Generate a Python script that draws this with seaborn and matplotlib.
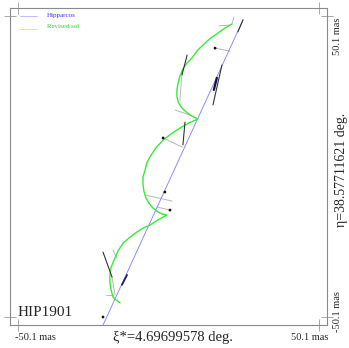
import matplotlib
matplotlib.use("Agg")
import matplotlib.pyplot as plt
import seaborn as sns
from matplotlib.lines import Line2D

sns.set_style("white")
plt.rcParams['font.family'] = ['Liberation Serif', 'DejaVu Serif']

# Dados (mas)
lim = 50.1
hip_x = [-21.8, 24.8]
hip_y = [-52.8, 48.8]

rev_x = [21.1, 18.8, 16.5, 14.1, 12.2, 9.8, 7.8, 6.2, 4.8, 3.8, 3.2, 2.8, 2.8, 3.2,
         4.2, 5.5, 7.2, 9.8,
         6.8, 3.8, 0.8, -1.8, -4.2, -6.2, -7.2, -7.8, -8.5, -8.5, -8.2, -7.5, -6.5,
         -5.2, -3.5, -2.2, -0.5,
         -3.5, -6.2, -8.5, -10.5, -12.8, -15.1, -16.8, -18.1, -19.1, -19.5, -19.5,
         -19.1, -18.5, -17.5, -16.1]
rev_y = [47.4, 46.1, 44.4, 42.8, 41.1, 38.8, 36.1, 34.5, 32.5, 30.1, 27.8, 25.5, 23.5, 21.5,
         19.8, 18.5, 17.1, 15.8,
         14.5, 12.8, 10.8, 8.8, 6.2, 3.2, 1.2, -1.2, -3.5, -5.8, -8.2, -10.5, -12.2,
         -13.8, -15.1, -15.8, -16.1,
         -17.8, -19.5, -20.5, -21.8, -23.5, -25.5, -28.1, -31.1, -33.5, -36.1, -38.8,
         -41.1, -43.4, -44.4, -45.4]

# segmentos de resíduo (cinza): x0, y0, x1, y1
res_x0 = [21.1, 16.8, 15.5, 4.5, 2.2, -1.8, -7.8, -3.8, -18.8, -20.8, -18.5]
res_y0 = [47.4, 46.8, 39.4, 31.1, 18.8, 9.5, -9.5, -13.5, -36.8, -42.8, -27.8]
res_x1 = [21.8, 20.5, 20.5, 3.8, 7.2, 4.5, 1.2, 0.5, -17.8, -18.5, -17.1]
res_y1 = [49.8, 47.1, 38.4, 22.1, 17.1, 6.5, -11.5, -14.5, -42.8, -42.8, -30.5]

# segmentos de erro (preto)
err_x0 = [24.8, 17.8, 6.2, 5.5, -21.8]
err_y0 = [48.8, 33.8, 37.1, 14.8, -28.5]
err_x1 = [23.1, 14.8, 4.5, 4.8, -18.8]
err_y1 = [44.8, 20.5, 30.5, 7.2, -36.8]

dot_x = [15.5, -1.8, -1.2, 0.5, -21.8]
dot_y = [39.4, 9.5, -8.5, -14.5, -50.1]

fig = plt.figure(figsize=(3.49, 3.48), dpi=100)
ax = fig.add_axes([10 / 349, 23 / 348, 317 / 349, 317 / 348])

pad = lim * 8 / 150.5
ax.set_xlim(-lim - pad, lim + pad)
ax.set_ylim(-lim - pad, lim + pad)

for x0, y0, x1, y1 in zip(res_x0, res_y0, res_x1, res_y1):
    ax.plot([x0, x1], [y0, y1], color='#b8b8b8', lw=0.7, zorder=2)

sns.lineplot(x=hip_x, y=hip_y, ax=ax, color='#8c8cff', lw=0.7, zorder=3,
             estimator=None, sort=False)
sns.lineplot(x=rev_x, y=rev_y, ax=ax, color='#33ee33', lw=1.0, zorder=4,
             estimator=None, sort=False)

for x0, y0, x1, y1 in zip(err_x0, err_y0, err_x1, err_y1):
    ax.plot([x0, x1], [y0, y1], color='#333333', lw=0.8, zorder=5)
ax.plot([16.1, 15.1], [29.5, 25.5], color='#111133', lw=1.6, zorder=5)
ax.plot([-13.8, -15.5], [-36.1, -39.4], color='#222266', lw=1.3, zorder=5)

sns.scatterplot(x=dot_x, y=dot_y, ax=ax, color='#111111', s=4, edgecolor='none', zorder=6)

for s in ax.spines.values():
    s.set_color('#8a8a8a')
    s.set_linewidth(0.8)
ax.set_xticks([-lim, lim])
ax.set_yticks([-lim, lim])
ax.tick_params(which='both', direction='inout', length=8, width=0.6, color='#9a9a9a',
               top=True, right=True, bottom=True, left=True,
               labelbottom=False, labelleft=False)

# textos
fig.text(35 / 349, 1 - 338 / 348, '-50.1 mas', fontsize=7.5, ha='center', va='center')
fig.text(310 / 349, 1 - 338 / 348, '50.1 mas', fontsize=7.5, ha='center', va='center')
fig.text(338 / 349, 1 - 36 / 348, '50.1 mas', fontsize=7.5, ha='center', va='center', rotation=90)
fig.text(338 / 349, 1 - 312 / 348, '-50.1 mas', fontsize=7.5, ha='center', va='center', rotation=90)
fig.text(173 / 349, 1 - 338 / 348, 'ξ*=4.69699578 deg.', fontsize=10.5, ha='center', va='center')
fig.text(342 / 349, 1 - 170 / 348, 'η=38.57711621 deg.', fontsize=10, ha='center', va='center', rotation=90)
fig.text(18 / 349, 1 - 313 / 348, 'HIP1901', fontsize=11, ha='left', va='center')

# legenda
fig.add_artist(Line2D([20 / 349, 37 / 349], [1 - 16 / 348] * 2, color='#b0b0ff', lw=0.6))
fig.add_artist(Line2D([20 / 349, 37 / 349], [1 - 29 / 348] * 2, color='#b0f0b0', lw=0.6))
fig.text(47 / 349, 1 - 16 / 348, 'Hipparcos', fontsize=5, color='#3333ff', ha='left', va='center')
fig.text(47 / 349, 1 - 26 / 348, 'Revised sol', fontsize=5, color='#22dd22', ha='left', va='center')

fig.savefig('out.png', dpi=100)
